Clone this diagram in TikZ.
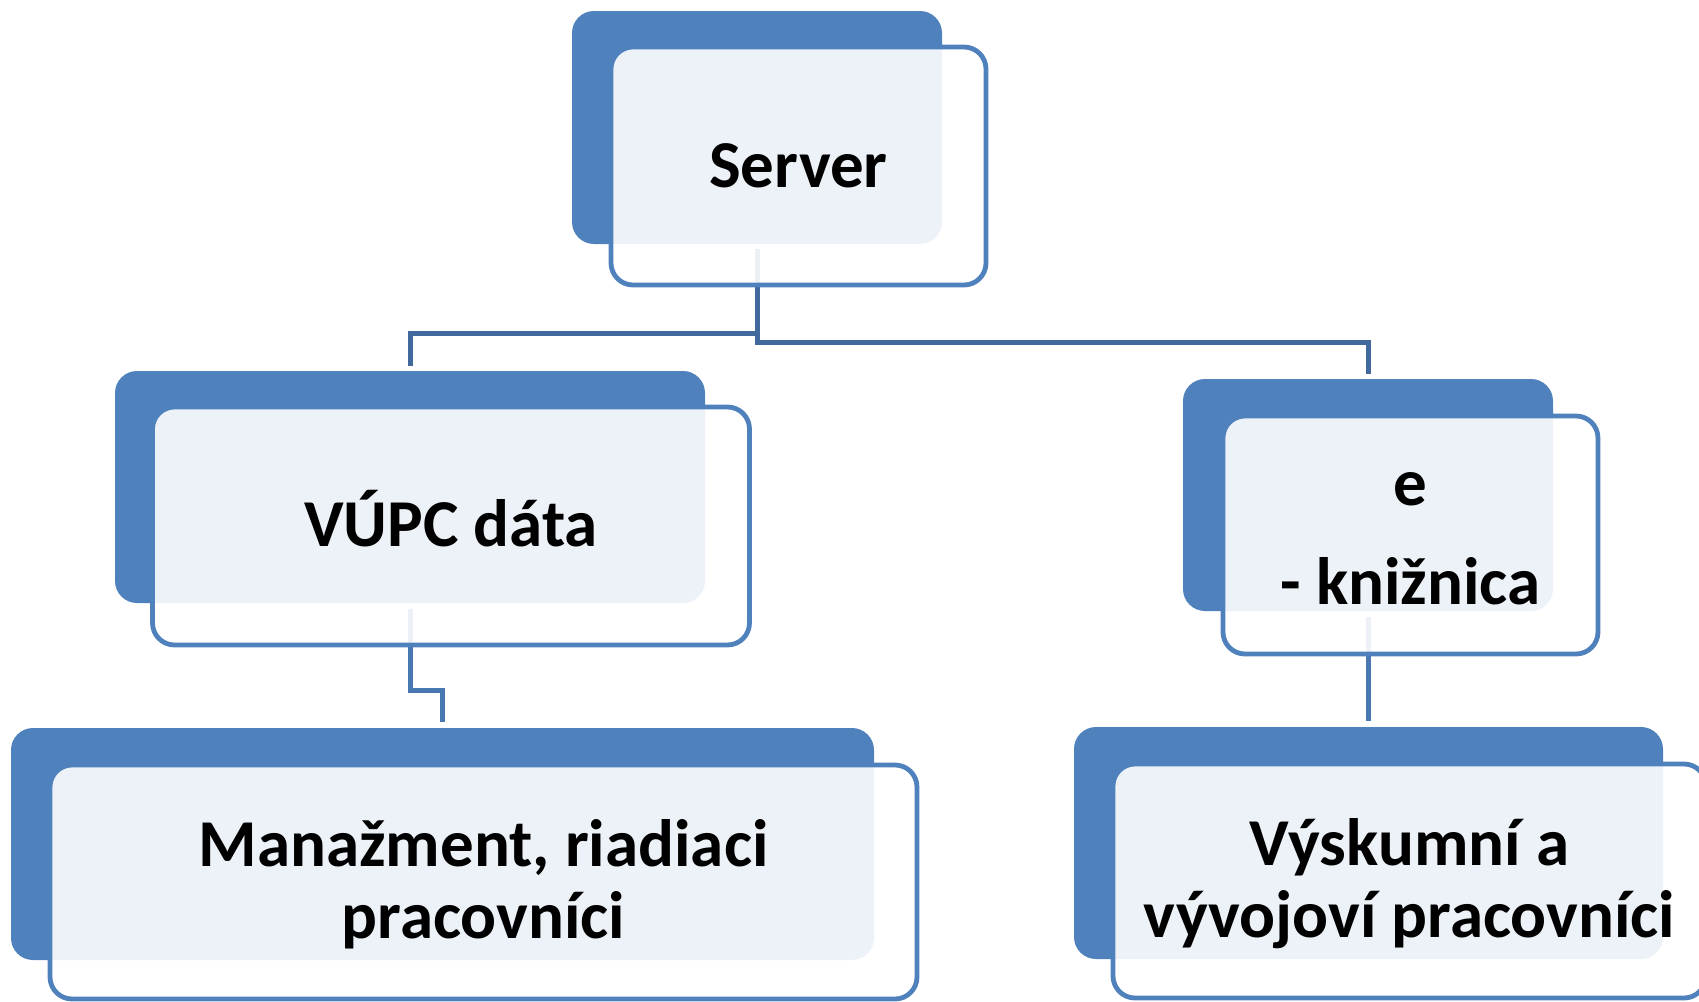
\documentclass[tikz,border=0pt]{standalone}
\usepackage{fontspec}
\setmainfont{Carlito}
\definecolor{boxblue}{HTML}{4F81BD}
\definecolor{linkA}{HTML}{41699B}
\definecolor{linkB}{HTML}{4977B2}
\begin{document}
\begin{tikzpicture}[x=0.5pt,y=-0.5pt,
  back/.style={fill=boxblue, draw=none, rounded corners=11pt, inner sep=0pt, outer sep=0pt},
  front/.style={fill=white, fill opacity=0.9, draw=boxblue, draw opacity=1, line width=2.4pt, rounded corners=11pt, inner sep=0pt, outer sep=0pt},
  lbl/.style={font=\fontsize{33.5pt}{36pt}\selectfont\bfseries, text=black, align=center, anchor=base, inner sep=0pt},
  linkone/.style={draw=linkA, line width=2.5pt},
  linktwo/.style={draw=linkB, line width=2.5pt}]
\useasboundingbox (0,0) rectangle (1699,1002);
% back boxes
\node[back, minimum width=185pt, minimum height=116.5pt] (srvB) at (757,127.5) {};
\node[back, minimum width=295pt, minimum height=116pt] (vupcB) at (410,487) {};
\node[back, minimum width=185pt, minimum height=116pt] (eknB) at (1368,495) {};
\node[back, minimum width=431.5pt, minimum height=116pt] (manB) at (442.5,844) {};
\node[back, minimum width=294.5pt, minimum height=116pt] (vyskB) at (1368.5,843) {};
% connectors
\draw[linkone] ([yshift=-2.5pt]srvB.south) -- ++(0,84) -| ([yshift=2.5pt]vupcB.north);
\draw[linkone] ([yshift=-2.5pt]srvB.south) -- ++(0,93) -| ([yshift=2.5pt]eknB.north);
\draw[linktwo] ([yshift=-3pt]vupcB.south) -- ++(0,81) -| ([yshift=3pt]manB.north);
\draw[linktwo] ([yshift=-3pt]eknB.south) -- ([yshift=3pt]eknB.south |- vyskB.north);
% front boxes
\node[front, minimum width=187.5pt, minimum height=119pt] (srvF) at (798.5,166) {};
\node[front, minimum width=298.5pt, minimum height=119pt] (vupcF) at (451,526) {};
\node[front, minimum width=187.5pt, minimum height=119pt] (eknF) at (1410.5,535) {};
\node[front, minimum width=433.5pt, minimum height=117pt] (manF) at (483.5,882) {};
\node[front, minimum width=296.5pt, minimum height=117pt] (vyskF) at (1409.5,881) {};
% labels (base anchor = baseline of the last line)
\node[lbl] (srvT) at (798.5,187) {Server};
\node[lbl] (vupcT) at (451,546) {VÚPC dáta};
\node[lbl] (eknT) at (1410.5,604) {e\\[13.5pt]- knižnica};
\node[lbl] (manT) at (483.5,938) {Manažment, riadiaci\\pracovníci};
\node[lbl] (vyskT) at (1409.5,937) {Výskumní a\\vývojoví pracovníci};
\end{tikzpicture}
\end{document}
